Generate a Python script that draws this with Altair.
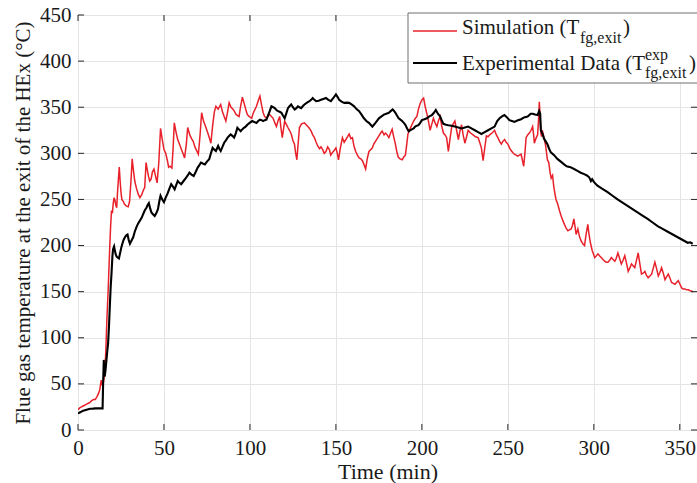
import altair as alt
import pandas as pd

# ---------------- data ----------------
sim_time = [0, 1, 2, 3, 4, 5, 6, 7, 8, 9, 10, 11, 12, 12.7, 13.5, 14.2, 14.8, 15.6, 16.2, 16.8, 17.5, 18, 18.5, 19, 19.5, 20, 20.5, 21, 21.5, 22, 22.5, 23, 23.5, 24, 24.5, 25, 25.5, 26.3, 27, 28, 29.2, 30, 30.8, 31.5, 32.2, 33, 34, 35, 36, 37, 38, 38.8, 39.6, 40.3, 41, 41.7, 42.5, 43.3, 44.2, 45, 46, 47, 48, 49, 50, 51, 52, 52.7, 53.5, 54.6, 55.3, 56, 57, 58, 59, 60, 61, 62, 63, 63.8, 65, 66, 67, 68, 69, 70, 71, 71.9, 73, 74.4, 75.5, 76.5, 77.3, 78.3, 79.3, 80.2, 81.5, 83, 84, 85, 86, 87, 87.9, 89, 90, 90.8, 92, 93.7, 94.5, 95.6, 96.5, 97.5, 98.5, 99.5, 101, 102, 103, 103.8, 105, 105.8, 106.8, 107.7, 108.5, 109.6, 110.5, 111.5, 112.5, 113.5, 114.5, 115.4, 116.3, 117.3, 118, 118.8, 119.5, 120.2, 121, 122.1, 123, 124, 125, 125.9, 126.6, 127.3, 128, 128.8, 130, 131.7, 132.7, 133.7, 134.6, 135.6, 136.5, 137.5, 138.5, 139.4, 140.5, 141.3, 142.3, 143.2, 144.2, 145.2, 146.2, 147, 148, 149, 150, 150.8, 151.5, 152.5, 153.8, 154.8, 155.8, 156.8, 157.7, 158.7, 159.6, 160.5, 161.5, 162.5, 163.5, 164.5, 165.4, 166.3, 167.3, 168.2, 169.2, 170.2, 171.2, 172, 173, 174, 175, 176, 176.9, 178, 178.8, 179.8, 180.8, 181.8, 182.7, 183.6, 184.6, 185.4, 186.2, 187.3, 188.5, 189.5, 190.4, 191.2, 191.9, 193, 194.2, 195.2, 196.2, 197.1, 198, 199, 200, 201, 202, 202.9, 203.8, 204.8, 205.8, 206.7, 207.7, 208.7, 209.6, 210.6, 211.5, 212.5, 213.5, 214.4, 215.4, 216.3, 217.3, 218.2, 219.2, 220.2, 221.2, 222.1, 223.1, 224, 225, 226, 226.9, 228.3, 229.8, 231.2, 232.7, 233.6, 234.6, 235.6, 236.5, 237.5, 238.5, 239.4, 240.8, 242.3, 243.3, 244.2, 245.2, 246.2, 247.1, 248.1, 249, 250, 251, 251.9, 252.8, 253.8, 254.8, 255.8, 256.7, 257.7, 258.5, 259.2, 259.9, 260.6, 261.5, 262.5, 263.5, 264.4, 265, 265.4, 266.3, 267.3, 267.8, 268.3, 268.8, 269.2, 269.6, 270, 271, 272, 273, 273.8, 274.5, 275.2, 276, 276.7, 277.4, 278, 279, 280, 281, 282, 282.9, 283.9, 284.9, 285.8, 286.8, 287.6, 288.4, 289.1, 289.7, 290.2, 290.7, 291.6, 292.6, 293.6, 294.6, 295.5, 296.5, 297.2, 298, 299, 300.5, 301.5, 302.4, 303.3, 304.3, 305.3, 306.3, 307.2, 308.2, 309.2, 310.2, 311.2, 312.2, 313, 314, 315, 316, 317, 318, 319, 320, 321, 321.9, 322.8, 323.8, 324.8, 325.8, 326.7, 327.7, 328.7, 329.7, 330.6, 331.6, 332.6, 333.6, 334.5, 335.5, 336.5, 337.5, 338.5, 339.4, 340.4, 341.4, 342.3, 343.3, 344.2, 345.2, 346.2, 347.2, 348.1, 349.1, 350.1, 351.1, 352, 353, 354, 355, 356, 357.9]
sim_temp = [22, 24, 25, 26, 27, 28, 29, 30, 32, 33, 33, 36, 40, 44, 54, 48, 52, 62, 87, 120, 150, 175, 200, 222, 238, 235, 246, 252, 249, 244, 241, 258, 272, 285, 270, 258, 250, 248, 245, 243, 242, 248, 270, 294, 282, 270, 262, 256, 252, 255, 260, 263, 290, 282, 275, 270, 272, 280, 283, 276, 268, 290, 327, 315, 304, 300, 292, 285, 286, 284, 305, 333, 323, 315, 310, 305, 300, 295, 310, 328, 320, 316, 313, 307, 303, 299, 320, 344, 335, 328, 322, 316, 311, 330, 345, 351, 348, 353, 345, 340, 335, 345, 355, 350, 348, 346, 342, 340, 350, 361, 355, 348, 342, 340, 338, 344, 348, 351, 358, 362, 352, 344, 340, 338, 341, 342, 340, 338, 333, 329, 335, 340, 328, 317, 326, 335, 332, 328, 325, 321, 314, 310, 300, 293, 310, 328, 332, 333, 331, 329, 327, 324, 320, 317, 312, 308, 305, 307, 304, 300, 302, 307, 304, 298, 301, 303, 306, 300, 293, 305, 317, 312, 315, 318, 321, 316, 317, 308, 302, 298, 295, 294, 292, 288, 283, 294, 302, 304, 306, 310, 313, 316, 319, 322, 324, 320, 322, 320, 317, 322, 326, 318, 310, 302, 296, 294, 293, 296, 298, 310, 321, 326, 331, 335, 338, 340, 348, 354, 358, 360, 350, 343, 335, 325, 332, 338, 333, 329, 335, 340, 330, 322, 320, 317, 302, 315, 328, 332, 335, 325, 315, 324, 331, 320, 311, 318, 325, 322, 320, 318, 317, 312, 306, 292, 305, 319, 318, 320, 322, 325, 320, 317, 313, 310, 313, 315, 312, 310, 306, 303, 301, 299, 298, 297, 298, 299, 292, 286, 300, 317, 320, 322, 325, 329, 320, 311, 316, 320, 335, 356, 338, 322, 318, 325, 317, 308, 293, 290, 280, 273, 276, 264, 256, 250, 245, 238, 232, 227, 223, 219, 216, 217, 218, 222, 229, 220, 212, 215, 218, 210, 205, 202, 200, 212, 223, 212, 203, 195, 187, 189, 191, 189, 187, 185, 183, 182, 182, 184, 187, 185, 183, 186, 192, 186, 180, 184, 189, 181, 172, 176, 180, 178, 176, 184, 192, 181, 169, 170, 172, 168, 165, 167, 169, 175, 182, 175, 167, 171, 176, 170, 163, 166, 169, 165, 160, 159, 158, 160, 162, 158, 154, 153, 153, 152, 152, 151, 150]

exp_time = [0, 1, 2, 3, 4, 5, 6, 7, 8, 9, 10, 11, 12, 13, 14.3, 14.6, 15, 15.3, 15.5, 16, 16.5, 17, 17.5, 18, 18.5, 19, 19.5, 20, 20.4, 21, 21.5, 22, 22.5, 23, 23.8, 24.5, 25.2, 25.8, 26.5, 27.3, 28, 28.8, 29.5, 30.2, 31, 32.1, 33, 34, 35, 36, 37, 37.9, 38.8, 39.8, 40.5, 41.2, 42, 42.7, 43.6, 44.6, 45.5, 46.5, 47.3, 48, 49, 50, 51, 52, 53, 54.2, 55.2, 56.2, 57, 58, 59, 60, 61.4, 62.9, 63.8, 64.8, 66, 67.3, 68.5, 69.6, 70.5, 71.5, 72.6, 73.8, 75, 76.3, 77.3, 78.3, 79.3, 80.2, 81.5, 82.2, 83, 84, 85, 86, 87, 88, 88.8, 89.8, 90.8, 91.8, 92.7, 93.6, 94.6, 95.5, 96.5, 97.5, 98.5, 99.8, 101.3, 102.5, 103.8, 104.8, 105.8, 106.8, 107.7, 108.6, 109.6, 110.5, 111.5, 112.5, 113.5, 114.4, 115.4, 116.3, 117.3, 118.3, 119.2, 120.2, 121.1, 122.1, 123, 124, 125, 126, 127, 127.9, 128.8, 129.8, 130.7, 131.7, 133.2, 134.6, 135.6, 136.5, 137.5, 138.5, 140, 141.3, 142.7, 144.2, 145.6, 147.1, 148.5, 150, 151, 151.9, 153.3, 154.8, 156.2, 157.7, 159.1, 160.6, 162, 163.5, 164.9, 166.3, 167.7, 169.2, 170.2, 171.2, 172.1, 173, 174, 175, 176.5, 177.9, 179.3, 180.8, 182, 183, 183.8, 184.6, 185.5, 186.5, 187.5, 188.5, 189.5, 190.4, 191.4, 192.3, 193.2, 194.2, 195.2, 196.1, 197.1, 198, 199, 200, 201.5, 202.9, 204.3, 205.8, 207, 208.1, 209.3, 210.6, 211.5, 212.5, 214, 215.4, 217.3, 219.2, 221.2, 223.1, 225, 226.9, 228.8, 230.8, 232.7, 234.6, 236.5, 238.5, 240.4, 242.3, 243.8, 245.2, 246.6, 248, 249.5, 250.9, 252.4, 253.8, 255.5, 257.7, 259.4, 261.5, 263.3, 264.4, 265.8, 267.3, 268.2, 268.8, 269.2, 270.2, 271, 272, 273, 274, 275, 276.9, 278.8, 280.8, 282.7, 284.2, 286.4, 288.5, 290.5, 292.4, 294.4, 296, 297.3, 297.8, 298.3, 299, 300, 302.1, 305, 308, 310.9, 313.8, 316.7, 319.6, 322.5, 325.4, 328.3, 331.3, 334.2, 337.1, 340, 343, 345.9, 348.8, 351.7, 354.6, 356, 357.5]
exp_temp = [18, 19, 20, 21, 21.5, 22, 22.5, 23, 23, 23.2, 23.4, 23.5, 23.5, 23.5, 23.5, 50, 76, 60, 58, 65, 75, 85, 94, 112, 134, 155, 170, 188, 196, 199, 194, 190, 188, 187, 186, 192, 198, 202, 206, 209, 211, 212, 206, 202, 205, 209, 215, 220, 224, 227, 230, 234, 238, 241, 244, 246, 240, 236, 234, 232, 235, 239.5, 248, 254, 250, 247, 252, 256, 261, 266.5, 264, 261, 265, 270, 268, 266.5, 270, 273.7, 276, 279, 277, 275.5, 280, 284.5, 287, 290, 289, 288, 291, 293.5, 300, 306, 304, 302.5, 308, 305, 302.5, 307, 311.5, 314, 317, 319, 320.5, 319, 317, 322, 327.7, 326, 324, 326, 327.7, 329, 331, 333, 335, 334, 333, 335, 336.6, 336, 335, 336, 336.6, 341, 345.7, 351, 350, 349, 347, 345.7, 345, 344, 341, 338, 343, 349, 351, 353, 350, 347.5, 349, 351, 350, 349, 351, 353, 355, 356.5, 358, 360, 358, 356.5, 357, 358, 359, 360, 358, 356.5, 360, 364, 361, 358, 356, 354.7, 355, 354.7, 353, 351, 348, 345.7, 342, 338, 335, 333, 331, 329, 331, 333, 335.5, 338, 340, 342, 343, 344, 346, 347.5, 346, 344, 341, 338, 336.5, 335, 333, 331, 327, 324, 325, 326, 327, 329, 330, 330.5, 333, 336, 337, 338, 340, 341.5, 344, 347, 343, 340, 336, 332, 331, 330.5, 330, 329, 328, 327, 328, 329, 327, 325, 323, 321, 323, 325, 327, 329, 335, 338, 340, 341.5, 339, 336, 335, 334, 335.5, 337, 339, 340, 343, 343, 342, 341.5, 346, 343, 325, 321, 316, 313, 310, 305, 301, 298, 294, 291, 288, 286, 285, 283, 281, 279, 277.5, 276, 274, 272, 270, 272, 269, 265, 261.5, 258, 254, 250, 246.5, 243, 239.5, 236, 232.5, 229, 225, 221, 218, 215, 212, 209, 206, 203, 203.5, 202]

x_ticks = [0, 50, 100, 150, 200, 250, 300, 350]
y_ticks = [0, 50, 100, 150, 200, 250, 300, 350, 400, 450]

sim_label = "Simulation (T"
exp_label = "Experimental Data (T"
sub_label = "fg,exit"
sup_label = "exp"
x_title = "Time (min)"
y_title = "Flue gas temperature at the exit of the HEx (°C)"

# ---------------- styling ----------------
W, H = 619, 415
FONT = "Liberation Serif"
RED = "#e8202a"
INK = "#1a1a1a"
GRID = "#e4e4e4"

xs = alt.Scale(domain=[0, 360], nice=False, zero=False)
ys = alt.Scale(domain=[0, 450], nice=False, zero=False)

sim_df = pd.DataFrame({"t": sim_time, "T": sim_temp})
exp_df = pd.DataFrame({"t": exp_time, "T": exp_temp})
xt_df = pd.DataFrame({"t": x_ticks})
yt_df = pd.DataFrame({"T": y_ticks})

x_axis = alt.Axis(values=x_ticks, title=x_title, grid=True, gridColor=GRID,
                  domain=False, ticks=False, tickSize=0, labelPadding=7,
                  labelFont=FONT, labelFontSize=21, labelColor=INK,
                  titleFont=FONT, titleFontSize=22, titleFontWeight="normal",
                  titleColor=INK, titlePadding=3, labelFlush=False)
y_axis = alt.Axis(values=y_ticks, title=y_title, grid=True, gridColor=GRID,
                  domain=False, ticks=False, tickSize=0, labelPadding=7,
                  labelFont=FONT, labelFontSize=21, labelColor=INK,
                  titleFont=FONT, titleFontSize=21, titleFontWeight="normal",
                  titleColor=INK, titlePadding=6, labelFlush=False)

X = alt.X("t:Q", scale=xs, axis=x_axis)
Y = alt.Y("T:Q", scale=ys, axis=y_axis)

sim_line = alt.Chart(sim_df).mark_line(color=RED, strokeWidth=1.5, clip=True).encode(x=X, y=Y)
exp_line = alt.Chart(exp_df).mark_line(color="black", strokeWidth=2.1, clip=True).encode(x=X, y=Y)

# inward ticks (MATLAB style box)
tick_col = "#262626"
xt_bottom = alt.Chart(xt_df).mark_rule(color=tick_col, strokeWidth=1).encode(
    x=X, y=alt.value(H), y2=alt.value(H - 6))
xt_top = alt.Chart(xt_df).mark_rule(color=tick_col, strokeWidth=1).encode(
    x=X, y=alt.value(0), y2=alt.value(6))
yt_left = alt.Chart(yt_df).mark_rule(color=tick_col, strokeWidth=1).encode(
    y=Y, x=alt.value(0), x2=alt.value(6))
yt_right = alt.Chart(yt_df).mark_rule(color=tick_col, strokeWidth=1).encode(
    y=Y, x=alt.value(W), x2=alt.value(W - 6))

# legend (custom, to allow sub/superscripts)
one = alt.Data(values=[{}])
leg_box = alt.Chart(one).mark_rect(fill="white", stroke="#6e6e6e", strokeWidth=1).encode(
    x=alt.value(330), x2=alt.value(640), y=alt.value(-2), y2=alt.value(68))
leg_red = alt.Chart(one).mark_rule(color=RED, strokeWidth=1.5).encode(
    x=alt.value(335), x2=alt.value(379), y=alt.value(16))
leg_blk = alt.Chart(one).mark_rule(color="black", strokeWidth=2).encode(
    x=alt.value(335), x2=alt.value(379), y=alt.value(48))


def txt(s, x, y, size):
    return alt.Chart(one).mark_text(text=s, font=FONT, fontSize=size, color=INK,
                                    align="left", baseline="alphabetic").encode(
        x=alt.value(x), y=alt.value(y))


legend = [
    leg_box, leg_red, leg_blk,
    txt(sim_label, 384, 19, 21), txt(sub_label, 502, 27.5, 16), txt(")", 545, 19, 21),
    txt(exp_label, 384, 55, 21), txt(sup_label, 567, 45, 16), txt(sub_label, 567, 63, 16),
    txt(")", 611, 55, 21),
]

chart = alt.layer(
    sim_line, exp_line, xt_bottom, xt_top, yt_left, yt_right, *legend
).properties(
    width=W, height=H,
    autosize=alt.AutoSizeParams(type="none"),
    padding={"left": 78, "top": 15, "right": 0, "bottom": 53},
    background="white",
).configure_view(stroke="#262626", strokeWidth=1)

chart.save("out.html", embed_options={"renderer": "svg", "actions": False})
